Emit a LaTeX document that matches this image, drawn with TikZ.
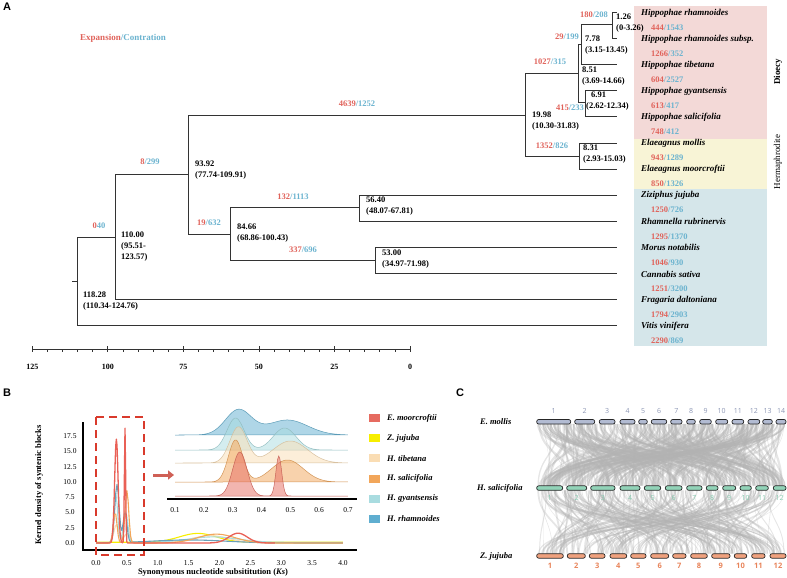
\documentclass[tikz,border=0pt]{standalone}
\usepackage{fontspec}
\setmainfont{Liberation Serif}
\setsansfont{Liberation Sans}
\newfontfamily\chromfont{Open Sans}
\usetikzlibrary{arrows.meta}

\definecolor{expred}{HTML}{E0625A}
\definecolor{conblue}{HTML}{6BB3CF}
\definecolor{dioecybg}{HTML}{F3D9D7}
\definecolor{hermbg}{HTML}{F8F4D6}
\definecolor{outbg}{HTML}{D5E6EA}
\definecolor{moorC}{HTML}{E66B60}
\definecolor{jujuC}{HTML}{F7EE00}
\definecolor{tibeC}{HTML}{FADDB4}
\definecolor{saliC}{HTML}{F2A65A}
\definecolor{gyanC}{HTML}{A9DCE0}
\definecolor{rhamC}{HTML}{5FAED0}
\definecolor{boxred}{HTML}{D93A2C}
\definecolor{chrE}{HTML}{B2BBD2}
\definecolor{chrH}{HTML}{92D3B8}
\definecolor{chrZ}{HTML}{EFA17E}
\definecolor{numE}{HTML}{8C96B4}
\definecolor{numH}{HTML}{86CBB0}
\definecolor{numZ}{HTML}{E8845A}

\newcommand{\setfs}[1]{\fontsize{#1}{#1}\selectfont}
\newcommand{\agefs}{\fontsize{8.5}{11}\selectfont}
\newcommand{\ec}[2]{\textcolor{expred}{#1}\textcolor{conblue}{/#2}}

\begin{document}
\begin{tikzpicture}[
    x=1pt, y=-1pt,
    declare function={gs(\k,\m,\s)=exp(-0.5*min(abs((\k-\m)/\s),6)^2);},
    branch/.style = {line width=1pt, draw=black!80},
    age/.style = {anchor=west, inner sep=0, align=left, font=\bfseries\agefs},
    gain/.style = {inner sep=0, font=\bfseries\setfs{8.5}},
    tipname/.style = {anchor=west, inner sep=0, font=\bfseries\itshape\setfs{9}},
    tipcount/.style = {anchor=west, inner sep=0, font=\bfseries\setfs{8.5}},
    panel/.style = {inner sep=0, font=\sffamily\bfseries\setfs{11}},
    ticklab/.style = {inner sep=0, font=\setfs{7.5}},
    axtitle/.style = {inner sep=0, font=\bfseries\setfs{8.5}},
    legtext/.style = {anchor=west, inner sep=0, font=\bfseries\itshape\setfs{8.5}},
    curve/.style = {line width=1.1pt, line join=round},
    ridge/.style = {line width=0.5pt, fill opacity=0.5, draw opacity=0.9},
    link/.style = {draw=gray!60, draw opacity=0.33},
    chrom/.style = {draw=black!85, line width=0.7pt, rounded corners=2pt}
  ]
\useasboundingbox (0,0) rectangle (787,578);

% ---------------- A: tree ----------------
\node[panel] (pA) at (7,7) {A};
\node[gain, font=\bfseries\setfs{9}] (legA) at (123,38) {\textcolor{expred}{Expansion}\textcolor{conblue}{/Contration}};

\fill[dioecybg] (634,6) rectangle (767,139);
\fill[hermbg] (634,139) rectangle (767,189);
\fill[outbg] (634,189) rectangle (767,346);
\node[rotate=90, inner sep=0, font=\bfseries\setfs{9}] (dio) at (778,72) {Dioecy};
\node[rotate=90, inner sep=0, font=\setfs{9}] (her) at (778,162) {Hermaphrodite};

% nodes of the tree
\coordinate (root) at (77.6,281.5);
\coordinate (rootstub) at (71.5,281.5);
\coordinate (n110) at (115.4,237);
\coordinate (n9392) at (188.7,174.5);
\coordinate (n8466) at (230.9,234);
\coordinate (n5640) at (359.8,207.5);
\coordinate (n5300) at (375.3,260);
\coordinate (n1998) at (525.9,115);
\coordinate (n851) at (578.2,74);
\coordinate (n831) at (579.1,156);
\coordinate (n778) at (581.5,44.5);
\coordinate (n691) at (585.5,102.5);
\coordinate (n126) at (612,25);
\foreach \i in {1,...,13}
  \coordinate (t\i) at (617,{12.5+(\i-1)*26.1});

\draw[branch] (root) -- (rootstub);
\foreach \a/\b in {root/n110, root/t13, n110/n9392, n110/t12, n9392/n1998, n9392/n8466,
    n8466/n5640, n8466/n5300, n5640/t8, n5640/t9, n5300/t10, n5300/t11,
    n1998/n851, n1998/n831, n831/t6, n831/t7, n851/n778, n851/n691,
    n778/n126, n778/t3, n691/t4, n691/t5, n126/t1, n126/t2}
  \draw[branch] (\a) |- (\b);

% divergence times
\node[age] (a126) at (616,23.5) {1.26\\(0-3.26)};
\node[age] (a778) at (585,45.5) {7.78\\(3.15-13.45)};
\node[age] (a851) at (582,76.5) {8.51\\(3.69-14.66)};
\node[age] (a691) at (586,101.5) {\hspace*{5pt}6.91\\(2.62-12.34)};
\node[age] (a1998) at (532,121.5) {19.98\\(10.30-31.83)};
\node[age] (a831) at (583,154) {8.31\\(2.93-15.03)};
\node[age] (a9392) at (195,170.5) {93.92\\(77.74-109.91)};
\node[age] (a110) at (121,246.5) {110.00\\(95.51-\\123.57)};
\node[age] (a8466) at (237,233) {84.66\\(68.86-100.43)};
\node[age] (a5640) at (366,206) {56.40\\(48.07-67.81)};
\node[age] (a5300) at (382,259) {53.00\\(34.97-71.98)};
\node[age] (a11828) at (83,301.5) {118.28\\(110.34-124.76)};

% expansion / contraction on branches
\node[gain] (g180) at (594,15) {\ec{180}{208}};
\node[gain] (g29) at (567,37) {\ec{29}{199}};
\node[gain] (g1027) at (550,62) {\ec{1027}{315}};
\node[gain] (g415) at (570,108) {\ec{415}{233}};
\node[gain] (g1352) at (552,146) {\ec{1352}{826}};
\node[gain] (g4639) at (357,104) {\ec{4639}{1252}};
\node[gain] (g8) at (150,162) {\ec{8}{299}};
\node[gain] (g0) at (99,226) {\textcolor{expred}{0}\textcolor{conblue}{40}};
\node[gain] (g19) at (209,223) {\ec{19}{632}};
\node[gain] (g132) at (293,197) {\ec{132}{1113}};
\node[gain] (g337) at (303,250) {\ec{337}{696}};

% species
\foreach \i/\sp/\ex/\co in {1/Hippophae rhamnoides/444/1543, 2/Hippophae rhamnoides subsp./1266/352,
    3/Hippophae tibetana/604/2527, 4/Hippophae gyantsensis/613/417, 5/Hippophae salicifolia/748/412,
    6/Elaeagnus mollis/943/1289, 7/Elaeagnus moorcroftii/850/1326, 8/Ziziphus jujuba/1250/726,
    9/Rhamnella rubrinervis/1295/1370, 10/Morus notabilis/1046/930, 11/Cannabis sativa/1251/3200,
    12/Fragaria daltoniana/1794/2903, 13/Vitis vinifera/2290/869} {
  \node[tipname] (sp\i) at (641,{13+(\i-1)*26.1}) {\sp};
  \node[tipcount] (ct\i) at (651,{27.5+(\i-1)*26.1}) {\ec{\ex}{\co}};
}

% time axis
\draw[line width=0.9pt, black!80] (32.3,349) -- (410,349);
\foreach \t in {0,5,...,125}
  \draw[line width=0.7pt, black!80] ({410-3.0216*\t},349) -- ++(0,3);
\foreach \t in {0,25,...,125} {
  \draw[line width=0.8pt, black!80] ({410-3.0216*\t},346) -- ++(0,6);
  \node[inner sep=0, font=\bfseries\setfs{8}] (tk\t) at ({410-3.0216*\t},367) {\t};
}

% ---------------- B: Ks ----------------
\node[panel] (pB) at (7,393) {B};
\foreach \d in {0.0,2.5,5.0,7.5,10.0,12.5,15.0,17.5}
  \node[ticklab] at (70,{543-6.11*\d}) {\d};
\foreach \k in {0.0,0.5,1.0,1.5,2.0,2.5,3.0,3.5,4.0}
  \node[ticklab] at ({96+61.75*\k},563) {\k};
\node[axtitle] (xt) at (213,572) {Synonymous nucleotide subsititution (\textit{Ks})};
\node[axtitle, rotate=90] (yt) at (39,485) {Kernel density of syntenic blocks};

\draw[curve, jujuC] plot[domain=0:4, samples=201]
  ({96+61.75*\x},{543-6.11*(1.45*gs(\x,1.65,0.3)+0.12)});
\draw[curve, tibeC] plot[domain=0:4, samples=201]
  ({96+61.75*\x},{543-6.11*(3*gs(\x,0.33,0.04)+1.5*gs(\x,0.5,0.05)+1.2*gs(\x,1.85,0.3))});
\draw[curve, gyanC] plot[domain=0:4, samples=201]
  ({96+61.75*\x},{543-6.11*(8*gs(\x,0.32,0.03)+5*gs(\x,0.48,0.035)+0.9*gs(\x,1.9,0.4)+0.1)});
\draw[curve, rhamC!70!gray] plot[domain=0:4, samples=201]
  ({96+61.75*\x},{543-6.11*(9.5*gs(\x,0.34,0.035)+5*gs(\x,0.47,0.03)+0.5*gs(\x,1.5,0.6))});
\draw[curve, saliC] plot[domain=0:4, samples=201]
  ({96+61.75*\x},{543-6.11*(5*gs(\x,0.31,0.03)+8.6*gs(\x,0.5,0.03)+1.45*gs(\x,1.95,0.3))});
\draw[curve, moorC!90!red, line width=1.3pt] plot[domain=0:2.9, samples=291]
  ({96+61.75*\x},{543-6.11*(17*gs(\x,0.33,0.028)+18.8*gs(\x,0.47,0.01)+1.6*gs(\x,2.3,0.15))});

\draw[line width=1.4pt] (83,422) -- (83,550) -- (357,550);
\draw[boxred, line width=1.8pt, dash pattern=on 8pt off 5pt] (96,417) rectangle (144,555);

% inset
\coordinate (arrS) at (153,475);
\coordinate (arrE) at (174,475);
\draw[moorC!90!black, line width=3pt, -{Triangle[length=6pt,width=9pt]}] (arrS) -- (arrE);
\foreach \base/\rc/\aa/\ma/\sa/\ab/\mb/\sb in {435/rhamC/25/0.32/0.045/15/0.49/0.07,
    450/gyanC/32/0.31/0.03/22/0.48/0.04, 463/tibeC/36/0.32/0.03/22/0.5/0.06,
    482/saliC/42/0.31/0.025/22/0.49/0.055, 496/moorC/44/0.325/0.025/40/0.46/0.01}
  \filldraw[ridge, fill=\rc, draw=\rc!85!black] plot[domain=0.1:0.7, samples=151]
    ({175+(\x-0.1)*288.3},{\base-\aa*gs(\x,\ma,\sa)-\ab*gs(\x,\mb,\sb)}) -- cycle;
\draw[line width=1.4pt] (167,499) -- (357,499);
\foreach \k in {0.1,0.2,0.3,0.4,0.5,0.6,0.7}
  \node[ticklab] at ({175+(\k-0.1)*288.3},510) {\k};

% legend
\foreach \i/\c/\n in {1/moorC/E. moorcroftii, 2/jujuC/Z. jujuba, 3/tibeC/H. tibetana,
    4/saliC/H. salicifolia, 5/gyanC/H. gyantsensis, 6/rhamC/H. rhamnoides} {
  \fill[\c] (369,{414+(\i-1)*20.2}) rectangle ++(11,8);
  \node[legtext] (leg\i) at (387,{418+(\i-1)*20.2}) {\n};
}

% ---------------- C: synteny ----------------
\node[panel] (pC) at (460,393) {C};
\node[legtext] (rowE) at (480,421.7) {E. mollis};
\node[legtext] (rowH) at (477,488) {H. salicifolia};
\node[legtext] (rowZ) at (480,556) {Z. jujuba};

\pgfmathsetseed{17}
\foreach \j in {1,...,380} {
  \pgfmathsetmacro{\xa}{538+247*rnd}
  \pgfmathsetmacro{\xb}{538+247*rnd}
  \pgfmathsetmacro{\lw}{0.3+2*rnd}
  \draw[link, line width=\lw pt] (\xa,424) .. controls (\xa,455) and (\xb,455) .. (\xb,485.7);
}
\foreach \j in {1,...,240} {
  \pgfmathsetmacro{\xa}{538+247*rnd}
  \pgfmathsetmacro{\xb}{538+247*rnd}
  \pgfmathsetmacro{\lw}{0.3+1.6*rnd}
  \draw[link, line width=\lw pt] (\xa,490.3) .. controls (\xa,522) and (\xb,522) .. (\xb,553.7);
}

\foreach \a/\b [count=\n] in {536.7/570.7, 574.7/594.7, 599.3/615, 620/635, 638.7/647.3,
    651.3/666.7, 670.7/682, 686.7/695.3, 699.7/711.3, 715.7/727.7, 732/743.7, 748/759.7,
    762.7/772.3, 776/786} {
  \draw[chrom, fill=chrE] (\a,419.5) rectangle (\b,424);
  \node[inner sep=0, numE, font=\chromfont\setfs{7}] (e\n) at ({(\a+\b)/2},411) {\n};
}
\foreach \a/\b [count=\n] in {536.7/562.7, 566.7/586.7, 590.7/615, 620/640, 644.3/660.7,
    665.3/682, 686.7/702, 706.3/718, 722.7/735.7, 740/751.3, 755.7/768.3, 773.3/786} {
  \draw[chrom, fill=chrH] (\a,485.8) rectangle (\b,490.3);
  \node[inner sep=0, numH, font=\chromfont\setfs{7}] (h\n) at ({(\a+\b)/2},498) {\n};
}
\foreach \a/\b [count=\n] in {536.7/563.3, 567.3/585.3, 589.3/605, 610/626.7, 630.7/646,
    650.7/668.7, 672.7/686, 690.7/707.3, 711.7/730, 734.3/746.7, 751.7/765, 770/786} {
  \draw[chrom, fill=chrZ] (\a,553.7) rectangle (\b,558.2);
  \node[inner sep=0, numZ, font=\chromfont\bfseries\setfs{7.5}] (z\n) at ({(\a+\b)/2},566) {\n};
}
\end{tikzpicture}
\end{document}
